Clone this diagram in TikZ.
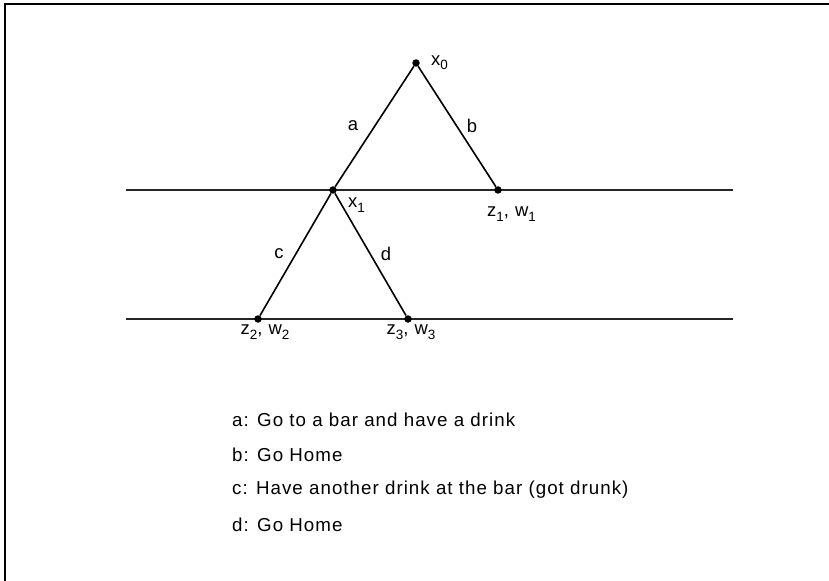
\documentclass[tikz,border=0pt]{standalone}
\usepackage{fontspec}
\setmainfont{Liberation Sans}[LetterSpace=5.5]
\usetikzlibrary{positioning}
\newcommand{\idx}[1]{\raisebox{-0.45ex}{\fontsize{13.5}{14}\selectfont #1}}
\tikzset{
    dot/.style={circle, fill=black, minimum size=7.5bp, inner sep=0pt},
    branch/.style={draw, line width=1.6bp, black},
    stage/.style={draw, line width=1.2bp, black!85},
    frameline/.style={draw, line width=2bp, black},
    lbl/.style={font=\fontsize{18.5}{21}\selectfont, inner sep=1pt},
    legend/.style={font=\fontsize{18.8}{22}\selectfont, anchor=west, inner sep=0pt}
}

\begin{document}
\begin{tikzpicture}[x=1bp, y=-1bp]
\useasboundingbox (0,0) rectangle (829,581);

% Frame (top and left only)
\coordinate (fr1) at (5,581);
\coordinate (fr2) at (5,4);
\coordinate (fr3) at (829,4);
\draw[frameline] (fr1) -- (fr2) -- (fr3);

% Stage lines
\coordinate (s1l) at (126,190);
\coordinate (s1r) at (733,190);
\coordinate (s2l) at (126,319);
\coordinate (s2r) at (733,319);
\draw[stage] (s1l) -- (s1r);
\draw[stage] (s2l) -- (s2r);

% Decision points
\node[dot] (x0) at (416,63) {};
\node[dot] (x1) at (333,190) {};
\node[dot] (zw1) at (498,190) {};
\node[dot] (zw2) at (258,319) {};
\node[dot] (zw3) at (408,319) {};

% Branches
\draw[branch] (x0) -- (x1);
\draw[branch] (x0) -- (zw1);
\draw[branch] (x1) -- (zw2);
\draw[branch] (x1) -- (zw3);

% Point labels
\node[lbl, anchor=west] (lx0) at (430,63) {x\idx{0}};
\node[lbl, anchor=west] (lx1) at (347,205) {x\idx{1}};
\node[lbl, anchor=north west] (lzw1) at (486,206) {z\idx{1}, w\idx{1}};
\node[lbl, anchor=north] (lzw2) at (265,324) {z\idx{2}, w\idx{2}};
\node[lbl, anchor=north] (lzw3) at (411,324) {z\idx{3}, w\idx{3}};

% Branch labels
\node[lbl] (la) at (353,126) {a};
\node[lbl] (lb) at (472,126) {b};
\node[lbl] (lc) at (279,254) {c};
\node[lbl] (ld) at (386,254) {d};

% Legend
\node[legend] (ka) at (232,420) {a: Go to a bar and have a drink};
\node[legend] (kb) at (232,455) {b: Go Home};
\node[legend] (kc) at (232,490) {c: Have another drink at the bar (got drunk)};
\node[legend] (kd) at (232,525) {d: Go Home};
\end{tikzpicture}
\end{document}
